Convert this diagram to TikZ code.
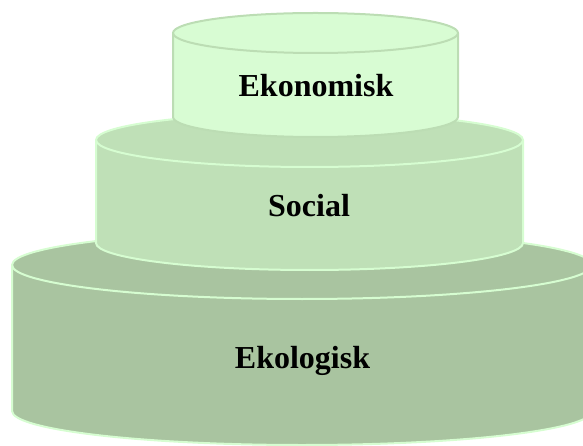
\documentclass[tikz,border=0pt]{standalone}
\usepackage{fontspec}
\setmainfont{Liberation Serif}
\definecolor{ecofill}{HTML}{A9C4A0}
\definecolor{socfill}{HTML}{BFE0B7}
\definecolor{ekofill}{HTML}{D8FCD3}
\definecolor{lightline}{HTML}{D6FDD1}
\definecolor{darkline}{HTML}{BCDDB4}
\newcommand\mycyl[7]{%
  \fill[#6] (#1-#4,#2) -- (#1-#4,#3) arc[start angle=180,end angle=0,x radius=#4,y radius=#5] -- (#1+#4,#2) -- cycle;
  \fill[#6] (#1,#2) ellipse[x radius=#4,y radius=#5];
  \draw[#7] (#1-#4,#2) -- (#1-#4,#3) arc[start angle=180,end angle=0,x radius=#4,y radius=#5] -- (#1+#4,#2);
  \draw[#7] (#1,#2) ellipse[x radius=#4,y radius=#5];
}
\tikzset{
  lbl/.style={anchor=base,font=\fontsize{32bp}{38bp}\selectfont\bfseries,text=black,inner sep=0pt},
  rim/.style={line width=2bp,line join=round}
}
\begin{document}
\begin{tikzpicture}[x=1bp,y=-1bp]
\useasboundingbox (0,0) rectangle (583,446);
\begin{scope}
\clip (0,0) rectangle (583,446);
\mycyl{302}{265}{411}{290}{34}{ecofill}{rim,lightline}
\mycyl{309.5}{140}{243}{213.5}{27}{socfill}{rim,lightline}
\mycyl{315.5}{33}{117}{142.5}{20}{ekofill}{rim,darkline}
\end{scope}
\node[lbl] (eko) at (316,97) {Ekonomisk};
\node[lbl] (soc) at (309,217) {Social};
\node[lbl] (ekol) at (302.5,368) {Ekologisk};
\end{tikzpicture}
\end{document}
